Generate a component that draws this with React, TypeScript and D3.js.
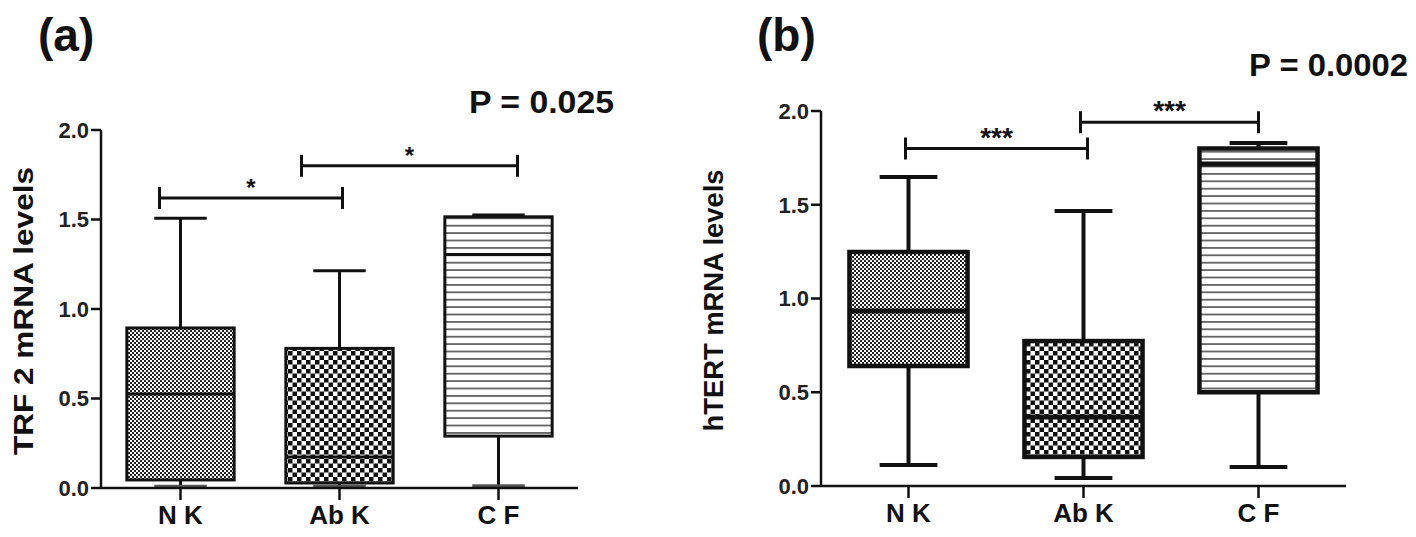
import React from "react";
import * as d3 from "d3";

// ---------- data ----------
const categories = ["N K", "Ab K", "C F"];
const patterns = ["fineChecker", "coarseChecker", "hLines"];
const yTicks = [0, 0.5, 1.0, 1.5, 2.0];

// Panel (a) TRF 2 mRNA levels
const trf2Min = [0.01, 0.01, 0.012];
const trf2Q1 = [0.045, 0.028, 0.29];
const trf2Median = [0.525, 0.173, 1.305];
const trf2Q3 = [0.894, 0.78, 1.515];
const trf2Max = [1.507, 1.213, 1.525];

// Panel (b) hTERT mRNA levels
const htertMin = [0.112, 0.043, 0.101];
const htertQ1 = [0.64, 0.155, 0.5];
const htertMedian = [0.933, 0.368, 1.717];
const htertQ3 = [1.248, 0.773, 1.8];
const htertMax = [1.648, 1.467, 1.83];

// significance brackets
const trf2Sig = [
  { from: 0, to: 1, y: 1.62, label: "*", dxFrom: -21, dxTo: 3 },
  { from: 1, to: 2, y: 1.8, label: "*", dxFrom: -38, dxTo: 19 },
];
const htertSig = [
  { from: 0, to: 1, y: 1.8, label: "***", dxFrom: -3, dxTo: 4 },
  { from: 1, to: 2, y: 1.94, label: "***", dxFrom: -3, dxTo: 0 },
];

const FONT = "'Liberation Sans', Arial, sans-serif";

type PanelProps = {
  letter: string;
  letterX: number;
  pText: string;
  pX: number;
  pY: number;
  pLen: number;
  yTitle: string;
  yTitleX: number;
  yTitleLen: number;
  x0: number;
  x1: number;
  yBottom: number;
  yTop: number;
  mins: number[];
  q1s: number[];
  meds: number[];
  q3s: number[];
  maxs: number[];
  sig: { from: number; to: number; y: number; label: string; dxFrom: number; dxTo: number }[];
  boxStroke: number;
  medStroke: number;
  whiskStroke: number;
  starSize: number;
  xLabelBaseline: number;
  minCapColor: string;
};

function Panel(p: PanelProps) {
  const x = d3.scaleBand<string>().domain(categories).range([p.x0, p.x1]).padding(0);
  const y = d3.scaleLinear().domain([0, 2]).range([p.yBottom, p.yTop]);
  const bw = x.bandwidth();
  const boxW = bw * 0.675;
  const capW = bw * 0.33;
  const cx = (i: number) => (x(categories[i]) as number) + bw / 2;
  const fmt = d3.format(".1f");
  const tickLen = 10;

  return (
    <g>
      <text x={p.letterX} y={51} fontFamily={FONT} fontWeight="bold" fontSize={46} fill="#111">
        {p.letter}
      </text>
      <text
        x={p.pX}
        y={p.pY}
        fontFamily={FONT}
        fontWeight="bold"
        fontSize={31}
        textLength={p.pLen}
        lengthAdjust="spacingAndGlyphs"
        fill="#111"
      >
        {p.pText}
      </text>
      <text
        transform={`translate(${p.yTitleX},${(p.yBottom + p.yTop) / 2 + 2}) rotate(-90)`}
        textAnchor="middle"
        fontFamily={FONT}
        fontWeight="bold"
        fontSize={28}
        textLength={p.yTitleLen}
        lengthAdjust="spacingAndGlyphs"
        fill="#111"
      >
        {p.yTitle}
      </text>

      {/* boxes */}
      {categories.map((c, i) => {
        const xc = cx(i);
        return (
          <g key={c}>
            <line x1={xc} x2={xc} y1={y(p.q3s[i])} y2={y(p.maxs[i])} stroke="#111" strokeWidth={p.whiskStroke} />
            <line x1={xc} x2={xc} y1={y(p.q1s[i])} y2={y(p.mins[i])} stroke="#111" strokeWidth={p.whiskStroke} />
            <line x1={xc - capW / 2} x2={xc + capW / 2} y1={y(p.maxs[i])} y2={y(p.maxs[i])} stroke="#111" strokeWidth={p.whiskStroke} />
            <line x1={xc - capW / 2} x2={xc + capW / 2} y1={y(p.mins[i])} y2={y(p.mins[i])} stroke={p.minCapColor} strokeWidth={p.whiskStroke} />
            <rect
              x={xc - boxW / 2}
              y={y(p.q3s[i])}
              width={boxW}
              height={y(p.q1s[i]) - y(p.q3s[i])}
              fill={`url(#${patterns[i]})`}
              stroke="#111"
              strokeWidth={p.boxStroke}
            />
            <line
              x1={xc - boxW / 2}
              x2={xc + boxW / 2}
              y1={y(p.meds[i])}
              y2={y(p.meds[i])}
              stroke="#111"
              strokeWidth={p.medStroke}
            />
          </g>
        );
      })}

      {/* axes */}
      <line x1={p.x0} x2={p.x0} y1={p.yBottom + 1} y2={y(2)} stroke="#111" strokeWidth={2.5} />
      <line x1={p.x0} x2={p.x1} y1={p.yBottom} y2={p.yBottom} stroke="#111" strokeWidth={2.5} />
      {yTicks.map((t) => (
        <g key={t}>
          <line x1={p.x0 - tickLen} x2={p.x0} y1={y(t)} y2={y(t)} stroke="#111" strokeWidth={2.5} />
          <text
            x={p.x0 - tickLen - 2}
            y={y(t)}
            dy="0.36em"
            textAnchor="end"
            fontFamily={FONT}
            fontWeight="bold"
            fontSize={22}
            fill="#222"
          >
            {fmt(t)}
          </text>
        </g>
      ))}
      {categories.map((c, i) => (
        <g key={c}>
          <line x1={cx(i)} x2={cx(i)} y1={p.yBottom} y2={p.yBottom + 12} stroke="#111" strokeWidth={2.5} />
          <text
            x={cx(i)}
            y={p.xLabelBaseline}
            textAnchor="middle"
            fontFamily={FONT}
            fontWeight="bold"
            fontSize={26}
            fill="#111"
          >
            {c}
          </text>
        </g>
      ))}

      {/* significance brackets */}
      {p.sig.map((s, k) => {
        const xa = cx(s.from) + s.dxFrom;
        const xb = cx(s.to) + s.dxTo;
        const yy = y(s.y);
        return (
          <g key={k}>
            <line x1={xa} x2={xb} y1={yy} y2={yy} stroke="#111" strokeWidth={3} />
            <line x1={xa} x2={xa} y1={yy - 11} y2={yy + 11} stroke="#111" strokeWidth={3} />
            <line x1={xb} x2={xb} y1={yy - 11} y2={yy + 11} stroke="#111" strokeWidth={3} />
            <text
              x={(xa + xb) / 2}
              y={yy - 2}
              textAnchor="middle"
              fontFamily={FONT}
              fontWeight="bold"
              fontSize={p.starSize}
              fill="#111"
            >
              {s.label}
            </text>
          </g>
        );
      })}
    </g>
  );
}

export default function App() {
  return (
    <svg
      width={1416}
      height={537}
      viewBox="0 0 1416 537"
      style={{ position: "absolute", left: 0, top: 0, background: "#fff" }}
    >
      <defs>
        <pattern id="fineChecker" patternUnits="userSpaceOnUse" width={4} height={4}>
          <rect width={4} height={4} fill="#fff" />
          <rect x={0} y={0} width={2} height={2} fill="#222" />
          <rect x={2} y={2} width={2} height={2} fill="#222" />
        </pattern>
        <pattern id="coarseChecker" patternUnits="userSpaceOnUse" width={9} height={9}>
          <rect width={9} height={9} fill="#fff" />
          <rect x={0} y={0} width={4.5} height={4.5} fill="#111" />
          <rect x={4.5} y={4.5} width={4.5} height={4.5} fill="#111" />
        </pattern>
        <pattern id="hLines" patternUnits="userSpaceOnUse" width={10} height={7.4}>
          <rect width={10} height={7.4} fill="#fff" />
          <line x1={0} x2={10} y1={3.7} y2={3.7} stroke="#333" strokeWidth={1.4} />
        </pattern>
      </defs>
      <rect width={1416} height={537} fill="#fff" />
      <Panel
        letter="(a)"
        letterX={38}
        pText="P = 0.025"
        pX={469}
        pY={113}
        pLen={145}
        yTitle="TRF 2 mRNA levels"
        yTitleX={33}
        yTitleLen={288}
        x0={101}
        x1={578}
        yBottom={488}
        yTop={130}
        mins={trf2Min}
        q1s={trf2Q1}
        meds={trf2Median}
        q3s={trf2Q3}
        maxs={trf2Max}
        sig={trf2Sig}
        boxStroke={3}
        medStroke={3}
        whiskStroke={3}
        starSize={24}
        xLabelBaseline={524}
        minCapColor="#555"
      />
      <Panel
        letter="(b)"
        letterX={757}
        pText="P = 0.0002"
        pX={1249}
        pY={76}
        pLen={159}
        yTitle="hTERT mRNA levels"
        yTitleX={723}
        yTitleLen={262}
        x0={821}
        x1={1346}
        yBottom={486}
        yTop={111}
        mins={htertMin}
        q1s={htertQ1}
        meds={htertMedian}
        q3s={htertQ3}
        maxs={htertMax}
        sig={htertSig}
        boxStroke={4.5}
        medStroke={5}
        whiskStroke={4}
        starSize={28}
        xLabelBaseline={522}
        minCapColor="#111"
      />
    </svg>
  );
}
